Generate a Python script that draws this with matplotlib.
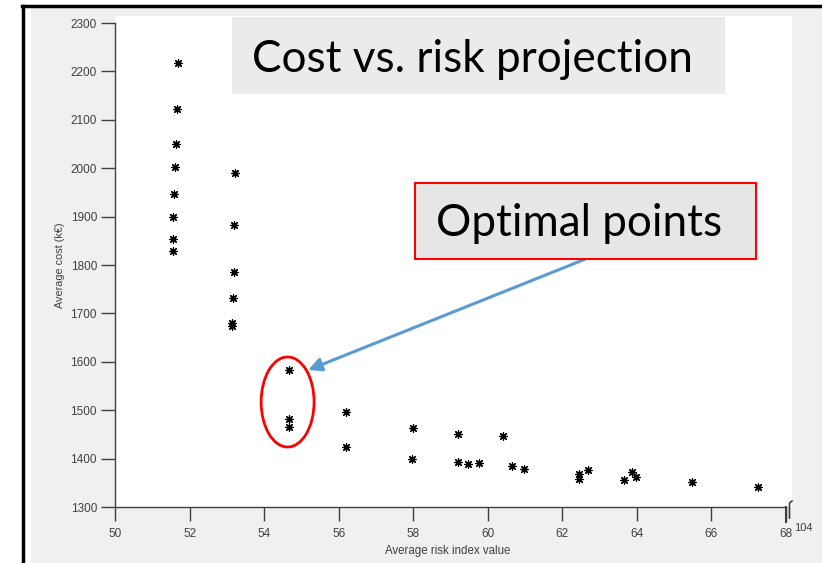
import matplotlib
matplotlib.use("Agg")
import matplotlib.pyplot as plt
from matplotlib.patches import Rectangle, Ellipse, FancyArrowPatch
from matplotlib.lines import Line2D

# ---- data ----
risk = [51.68, 51.65, 51.64, 51.62, 51.59, 51.56, 51.55, 51.55,
        53.21, 53.18, 53.18, 53.17, 53.15, 53.15,
        54.68, 54.68, 54.66,
        56.20, 56.20, 58.00, 57.98,
        59.19, 59.19, 59.46, 59.77,
        60.40, 60.66, 60.97,
        62.46, 62.46, 62.68,
        63.65, 63.88, 63.97, 65.47, 67.26]
cost = [2218, 2122, 2051, 2003, 1947, 1900, 1853, 1829,
        1991, 1882, 1786, 1731, 1681, 1674,
        1583, 1481, 1465,
        1496, 1423, 1463, 1399,
        1450, 1393, 1389, 1391,
        1447, 1385, 1379,
        1368, 1358, 1376,
        1356, 1373, 1362, 1351, 1342]
xticks = [50, 52, 54, 56, 58, 60, 62, 64, 66, 68]
yticks = [1300, 1400, 1500, 1600, 1700, 1800, 1900, 2000, 2100, 2200, 2300]

W, H = 822, 563
fig = plt.figure(figsize=(W / 100, H / 100), dpi=100)
fig.patch.set_facecolor("white")

def fx(x):
    return x / W

def fy(y):
    return 1 - y / H

# grey background and black frame
fig.patches.append(Rectangle((fx(31), 0), 1 - fx(31), fy(8), transform=fig.transFigure,
                             facecolor="#f0f0f0", edgecolor="none", zorder=-10))
fig.lines.append(Line2D([fx(22), 1], [fy(6), fy(6)], transform=fig.transFigure,
                        color="black", lw=2.5, zorder=-5))
fig.lines.append(Line2D([fx(23), fx(23)], [0, fy(6)], transform=fig.transFigure,
                        color="black", lw=2.5, zorder=-5))
# white plotting area
fig.patches.append(Rectangle((fx(115), fy(507)), fx(792) - fx(115), fy(16) - fy(507),
                             transform=fig.transFigure, facecolor="white",
                             edgecolor="none", zorder=-8))

ax = fig.add_axes([fx(115), fy(507), fx(786) - fx(115), fy(23) - fy(507)])
ax.set_facecolor("none")
ax.set_xlim(50, 68)
ax.set_ylim(1300, 2300)
ax.set_xticks(xticks)
ax.set_yticks(yticks)
for s in ["top", "right"]:
    ax.spines[s].set_visible(False)
for s in ["left", "bottom"]:
    ax.spines[s].set_color("#404040")
    ax.spines[s].set_linewidth(1)
ax.tick_params(direction="out", length=10, width=1, color="#404040",
               labelcolor="#404040", labelsize=8.5)
ax.tick_params(axis="x", pad=5)
ax.tick_params(axis="y", pad=3)
for lab in ax.get_xticklabels() + ax.get_yticklabels():
    lab.set_fontfamily("Liberation Sans")

ax.scatter(risk, cost, marker=(8, 2, 0), s=30, c="black", linewidths=0.9, zorder=3)

ax.set_xlabel("Average risk index value", fontsize=8.3, color="#404040",
              fontfamily="Liberation Sans")
ax.xaxis.set_label_coords(fx(448), fy(545), transform=fig.transFigure)
ax.set_ylabel("Average cost (k€)", fontsize=7.8, color="#404040",
              fontfamily="Liberation Sans")
ax.yaxis.set_label_coords(fx(65), fy(265), transform=fig.transFigure)

# 3D box corner decorations at right end
fig.lines.append(Line2D([fx(785.5), fx(785.5)], [fy(507), fy(522)], transform=fig.transFigure,
                        color="#404040", lw=1.5))
fig.lines.append(Line2D([fx(789.5), fx(789.5), fx(792)], [fy(518), fy(503), fy(501)],
                        transform=fig.transFigure, color="#404040", lw=1.2))
fig.text(fx(794), fy(528), "104", fontsize=8, color="#404040", fontfamily="Liberation Sans",
         ha="left", va="center")

# title box
fig.patches.append(Rectangle((fx(232), fy(94)), fx(725) - fx(232), fy(17) - fy(94),
                             transform=fig.transFigure, facecolor="#ebebeb",
                             edgecolor="none", zorder=1))
fig.text(fx(252), fy(60), "Cost vs. risk projection", fontsize=31.7, fontfamily="Lato",
         ha="left", va="center", color="black", zorder=2)

# optimal points box
fig.patches.append(Rectangle((fx(415), fy(259)), fx(756) - fx(415), fy(183) - fy(259),
                             transform=fig.transFigure, facecolor="#e6e6e6",
                             edgecolor="#ff0000", lw=1.5, zorder=1))
fig.text(fx(436), fy(224), "Optimal points", fontsize=31.7, fontfamily="Lato",
         ha="left", va="center", color="black", zorder=2)

# ellipse around optimal points
ax.add_patch(Ellipse((54.63, 1517), 1.42, 186, facecolor="none", edgecolor="#ff0000",
                     lw=2, zorder=4))

# arrow
arr = FancyArrowPatch((62.61, 1812), (55.18, 1583), arrowstyle="-|>,head_length=8,head_width=4",
                      color="#5b9bd5", lw=2.2, zorder=4, shrinkA=0, shrinkB=0)
ax.add_patch(arr)

fig.savefig("out.png", dpi=100, facecolor=fig.get_facecolor())
